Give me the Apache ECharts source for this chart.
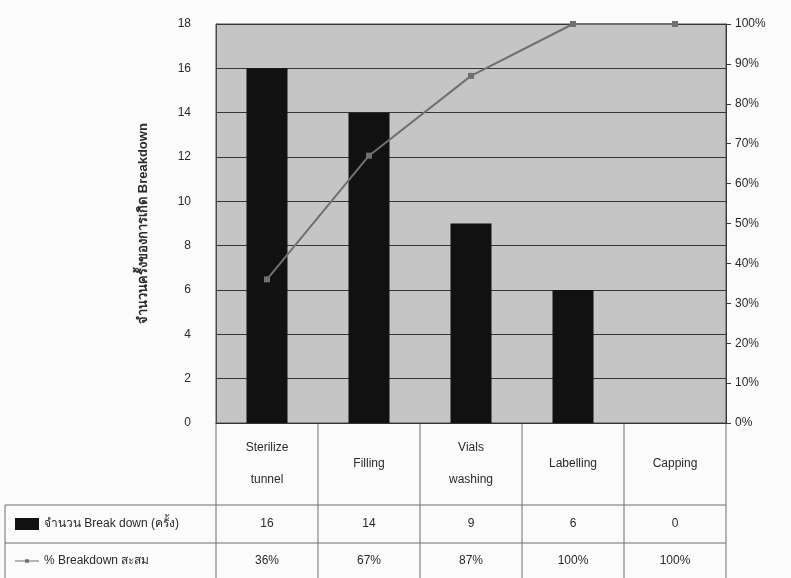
<!DOCTYPE html>
<html>
<head>
<meta charset="utf-8">
<script src="https://cdn.jsdelivr.net/npm/echarts@6/dist/echarts.min.js"></script>
<style>
  html, body { margin: 0; padding: 0; background: #fbfbfb; }
  #chart { width: 791px; height: 578px; }
</style>
</head>
<body>
<div id="chart"></div>
<script>
// Pareto of machine breakdowns by process step
const categories = ['Sterilize\ntunnel', 'Filling', 'Vials\nwashing', 'Labelling', 'Capping'];
const breakdownCounts = [16, 14, 9, 6, 0];
const cumulativePct = [36, 67, 87, 100, 100];
const countTicks = { min: 0, max: 18, interval: 2 };
const pctTicks = { min: 0, max: 100, interval: 10 };

const countName = 'จำนวน Break down (ครั้ง)';
const pctName = '% Breakdown สะสม';
const axisTitle = 'จำนวนครั้งของการเกิด Breakdown';

const FONT = '"Liberation Sans", Arial, "Noto Sans", sans-serif';
const TEXT = '#2a2a2a';
const TABLE_LINE = '#6e6e6e';
const LINE_GREY = '#707070';

// grid geometry (pixels)
const G = { left: 216, right: 65, top: 24, bottom: 155 };
const W = 791, H = 578;
const plotBottom = H - G.bottom;
const rowHead = [plotBottom, 505];
const rowCount = [505, 543];
const rowPct = [543, 578];

const chart = echarts.init(document.getElementById('chart'), null, { renderer: 'canvas' });

// extra category axes used as the value rows of the data table
function tableAxis(values, rowRange) {
  const center = (rowRange[0] + rowRange[1]) / 2;
  return {
    type: 'category',
    position: 'bottom',
    data: categories,
    axisLine: { show: false },
    axisTick: { show: false },
    axisLabel: {
      margin: center - plotBottom,
      verticalAlign: 'middle',
      color: TEXT,
      fontFamily: FONT,
      fontSize: 12,
      formatter: (v, i) => values[i]
    }
  };
}

// table borders
const colEdges = [];
const plotW = W - G.left - G.right;
for (let i = 0; i <= categories.length; i++) colEdges.push(G.left + plotW * i / categories.length);
const graphics = [];
colEdges.forEach(x => {
  graphics.push({ type: 'line', shape: { x1: x, y1: plotBottom, x2: x, y2: H }, style: { stroke: TABLE_LINE, lineWidth: 1 } });
});
[rowCount[0], rowPct[0]].forEach(y => {
  graphics.push({ type: 'line', shape: { x1: 5, y1: y, x2: colEdges[colEdges.length - 1], y2: y }, style: { stroke: TABLE_LINE, lineWidth: 1 } });
});
graphics.push({ type: 'line', shape: { x1: 5, y1: rowCount[0], x2: 5, y2: H }, style: { stroke: TABLE_LINE, lineWidth: 1 } });

chart.setOption({
  animation: false,
  backgroundColor: '#fbfbfb',
  textStyle: { fontFamily: FONT },
  grid: {
    left: G.left, right: G.right, top: G.top, bottom: G.bottom,
    show: true, backgroundColor: '#c5c5c5', borderColor: '#4a4a4a', borderWidth: 1
  },
  legend: {
    orient: 'vertical',
    left: 10, top: 513,
    itemWidth: 24, itemHeight: 12, itemGap: 25,
    textStyle: { color: TEXT, fontFamily: FONT, fontSize: 12 },
    data: [
      { name: countName, icon: 'rect' },
      { name: pctName, icon: 'path://M0,9 L48,9 L48,11 L0,11 Z M20,6.5 L28,6.5 L28,13.5 L20,13.5 Z' }
    ]
  },
  xAxis: [
    {
      type: 'category',
      position: 'bottom',
      data: categories,
      axisLine: { show: true, lineStyle: { color: '#333' } },
      axisTick: { show: false },
      axisLabel: {
        margin: (rowHead[0] + rowHead[1]) / 2 - plotBottom,
        verticalAlign: 'middle',
        lineHeight: 32,
        color: TEXT,
        fontFamily: FONT,
        fontSize: 12
      }
    },
    tableAxis(breakdownCounts, rowCount),
    tableAxis(cumulativePct.map(v => v + '%'), rowPct)
  ],
  yAxis: [
    {
      type: 'value',
      min: countTicks.min, max: countTicks.max, interval: countTicks.interval,
      name: axisTitle,
      nameLocation: 'middle',
      nameRotate: 90,
      nameGap: 66,
      nameTextStyle: { color: TEXT, fontFamily: FONT, fontSize: 13, fontWeight: 'bold' },
      axisLine: { show: true, lineStyle: { color: '#4a4a4a' } },
      axisTick: { show: false },
      axisLabel: { color: TEXT, fontFamily: FONT, fontSize: 12, margin: 25 },
      splitLine: { show: true, lineStyle: { color: '#353535', width: 1 } }
    },
    {
      type: 'value',
      min: pctTicks.min, max: pctTicks.max, interval: pctTicks.interval,
      position: 'right',
      axisLine: { show: true, lineStyle: { color: '#3a3a3a' } },
      axisTick: { show: true, length: 5, lineStyle: { color: '#3a3a3a' } },
      axisLabel: { color: TEXT, fontFamily: FONT, fontSize: 12, margin: 9, formatter: '{value}%' },
      splitLine: { show: false }
    }
  ],
  series: [
    {
      name: countName,
      type: 'bar',
      xAxisIndex: 0,
      yAxisIndex: 0,
      data: breakdownCounts,
      barWidth: 41,
      itemStyle: { color: '#111111' }
    },
    {
      name: pctName,
      type: 'line',
      xAxisIndex: 0,
      yAxisIndex: 1,
      data: cumulativePct,
      symbol: 'rect',
      symbolSize: 6,
      lineStyle: { color: LINE_GREY, width: 2 },
      itemStyle: { color: LINE_GREY }
    }
  ],
  graphic: graphics
});
</script>
</body>
</html>
